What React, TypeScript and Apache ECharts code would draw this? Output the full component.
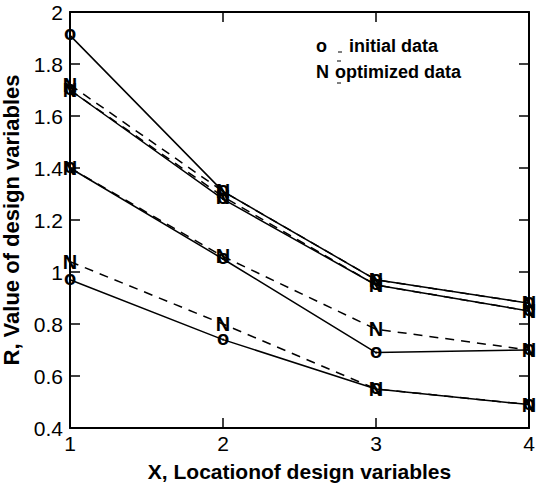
import React, { useEffect, useRef } from "react";
import * as echarts from "echarts";

const xValues = [1, 2, 3, 4];
const initial1 = [1.91, 1.31, 0.97, 0.88];
const initial2 = [1.70, 1.28, 0.95, 0.85];
const initial3 = [1.40, 1.05, 0.69, 0.70];
const initial4 = [0.97, 0.74, 0.55, 0.49];
const optimized1 = [1.72, 1.31, 0.97, 0.88];
const optimized2 = [1.70, 1.29, 0.95, 0.85];
const optimized3 = [1.40, 1.06, 0.78, 0.70];
const optimized4 = [1.04, 0.80, 0.55, 0.49];

const FONT = "'Liberation Sans', Arial, sans-serif";

export default function App() {
  const ref = useRef<HTMLDivElement>(null);
  useEffect(() => {
    if (!ref.current) return;
    const chart = echarts.init(ref.current, null, { renderer: "svg" });
    const mk = (vals: number[], marker: string, dashed: boolean) => ({
      type: "line",
      data: vals.map((v, i) => [xValues[i], v]),
      symbol: "circle",
      symbolSize: 2,
      itemStyle: { color: "#000" },
      lineStyle: { color: "#000", width: 1.5, type: dashed ? [9, 7] : "solid" },
      label: {
        show: true,
        position: "inside",
        formatter: marker,
        color: "#000",
        fontFamily: FONT,
        fontWeight: "bold",
        fontSize: 20,
        offset: marker === "o" ? [0, -2] : [0, 0],
      },
      z: marker === "N" ? 3 : 2,
    });
    const axisLine = { show: true, lineStyle: { color: "#000", width: 2 } };
    const axisTick = { show: true, inside: true, length: 10, lineStyle: { color: "#000", width: 1.5 } };
    chart.setOption({
      animation: false,
      backgroundColor: "#fff",
      grid: { left: 70, right: 7, top: 12, bottom: 55, containLabel: false, outerBoundsMode: "none" },
      xAxis: [
        {
          type: "value", min: 1, max: 4, interval: 1, position: "bottom",
          axisLine, axisTick, splitLine: { show: false },
          axisLabel: { color: "#000", fontSize: 21, fontFamily: FONT, margin: 5 },
          name: "X, Locationof design variables", nameLocation: "middle", nameGap: 33,
          nameTextStyle: { color: "#000", fontSize: 21, fontWeight: "bold", fontFamily: FONT },
        },
        {
          type: "value", min: 1, max: 4, interval: 1, position: "top",
          axisLine, axisTick, splitLine: { show: false }, axisLabel: { show: false },
        },
      ],
      yAxis: [
        {
          type: "value", min: 0.4, max: 2, interval: 0.2, position: "left",
          axisLine, axisTick, splitLine: { show: false },
          axisLabel: {
            color: "#000", fontSize: 21, fontFamily: FONT, margin: 7,
            padding: [5, 0, 0, 0],
            formatter: (v: number) => String(Math.round(v * 10) / 10),
          },
          name: "R, Value of design variables", nameLocation: "middle", nameGap: 43, nameRotate: 90,
          nameTextStyle: { color: "#000", fontSize: 22, fontWeight: "bold", fontFamily: FONT },
        },
        {
          type: "value", min: 0.4, max: 2, interval: 0.2, position: "right",
          axisLine, axisTick, splitLine: { show: false }, axisLabel: { show: false },
        },
      ],
      series: [
        mk(initial1, "o", false),
        mk(initial2, "o", false),
        mk(initial3, "o", false),
        mk(initial4, "o", false),
        mk(optimized1, "N", true),
        mk(optimized2, "N", true),
        mk(optimized3, "N", true),
        mk(optimized4, "N", true),
      ],
      graphic: [
        { type: "text", left: 316, top: 37, style: { text: "o", fill: "#000", font: `bold 18px ${FONT}` } },
        { type: "line", shape: { x1: 338, y1: 52, x2: 342, y2: 52 }, style: { stroke: "#000", lineWidth: 1 } },
        { type: "text", left: 349, top: 37, style: { text: "initial data", fill: "#000", font: `bold 18px ${FONT}` } },
        { type: "text", left: 316, top: 63, style: { text: "N", fill: "#000", font: `bold 18px ${FONT}` } },
        { type: "line", shape: { x1: 337, y1: 61, x2: 341, y2: 61 }, style: { stroke: "#000", lineWidth: 1 } },
        { type: "line", shape: { x1: 337, y1: 83, x2: 341, y2: 83 }, style: { stroke: "#000", lineWidth: 1 } },
        { type: "text", left: 335, top: 63, style: { text: "optimized data", fill: "#000", font: `bold 18px ${FONT}` } },
      ],
    });
    return () => chart.dispose();
  }, []);
  return <div ref={ref} style={{ width: 536, height: 483, position: "absolute", left: 0, top: 0 }} />;
}
